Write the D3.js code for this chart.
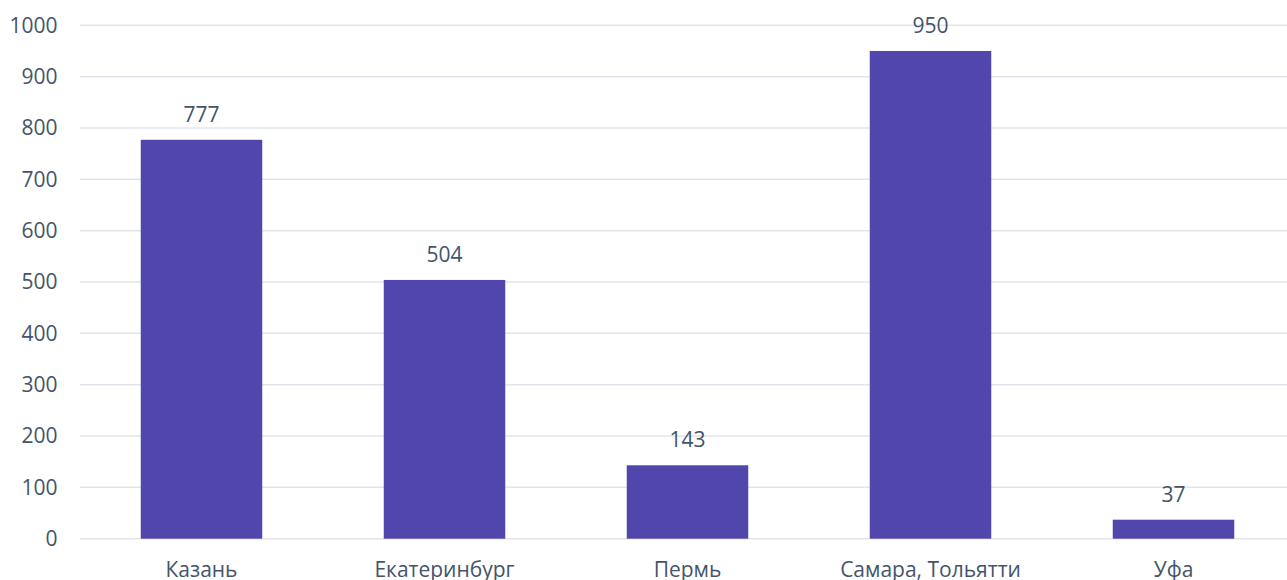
<!DOCTYPE html>
<html>
<head>
<meta charset="utf-8">
<script src="https://cdn.jsdelivr.net/npm/d3@7"></script>
<style>
  html, body { margin: 0; padding: 0; background: #ffffff; }
  svg { display: block; }
  text { font-family: "Open Sans", "Noto Sans", sans-serif; fill: #44546a; }
</style>
</head>
<body>
<svg id="chart" width="1287" height="580"></svg>
<script>
const categories = ["Казань", "Екатеринбург", "Пермь", "Самара, Тольятти", "Уфа"];
const values = [777, 504, 143, 950, 37];
const yTicks = [0, 100, 200, 300, 400, 500, 600, 700, 800, 900, 1000];

const width = 1287, height = 580;
const margin = { left: 80, right: -8, top: 25.3, bottom: 41.3 };
const fontSize = 21;

const svg = d3.select("#chart");

const x = d3.scaleBand()
  .domain(categories)
  .range([margin.left, width - margin.right])
  .paddingInner(0.5)
  .paddingOuter(0.25);

const y = d3.scaleLinear()
  .domain([0, 1000])
  .range([height - margin.bottom, margin.top]);

// horizontal gridlines
svg.append("g")
  .selectAll("line")
  .data(yTicks)
  .join("line")
  .attr("x1", margin.left)
  .attr("x2", width)
  .attr("y1", d => y(d))
  .attr("y2", d => y(d))
  .attr("stroke", "#e1e5eb")
  .attr("stroke-width", 1.5);

// y axis labels
const yAxis = d3.axisLeft(y)
  .tickValues(yTicks)
  .tickFormat(d3.format("d"))
  .tickSize(0)
  .tickPadding(0);
svg.append("g")
  .attr("transform", `translate(${57.5},0)`)
  .call(yAxis)
  .call(g => g.select(".domain").remove())
  .call(g => g.selectAll("text")
    .attr("font-size", fontSize)
    .attr("font-family", "'Open Sans', sans-serif")
    .attr("fill", "#44546a"));

// bars
svg.append("g")
  .selectAll("rect")
  .data(values)
  .join("rect")
  .attr("x", (d, i) => x(categories[i]))
  .attr("width", x.bandwidth())
  .attr("y", d => y(d))
  .attr("height", d => y(0) - y(d))
  .attr("fill", "#5146ab");

// value labels
svg.append("g")
  .selectAll("text")
  .data(values)
  .join("text")
  .attr("x", (d, i) => x(categories[i]) + x.bandwidth() / 2)
  .attr("y", d => y(d) - 18)
  .attr("text-anchor", "middle")
  .attr("font-size", fontSize)
  .text(d => d);

// category labels
const xAxis = d3.axisBottom(x).tickSize(0).tickPadding(0);
svg.append("g")
  .attr("transform", `translate(0,${height - margin.bottom})`)
  .call(xAxis)
  .call(g => g.select(".domain").remove())
  .call(g => g.selectAll("text")
    .attr("dy", null)
    .attr("y", 38)
    .attr("font-size", fontSize)
    .attr("font-family", "'Open Sans', sans-serif")
    .attr("fill", "#44546a"));
</script>
</body>
</html>
